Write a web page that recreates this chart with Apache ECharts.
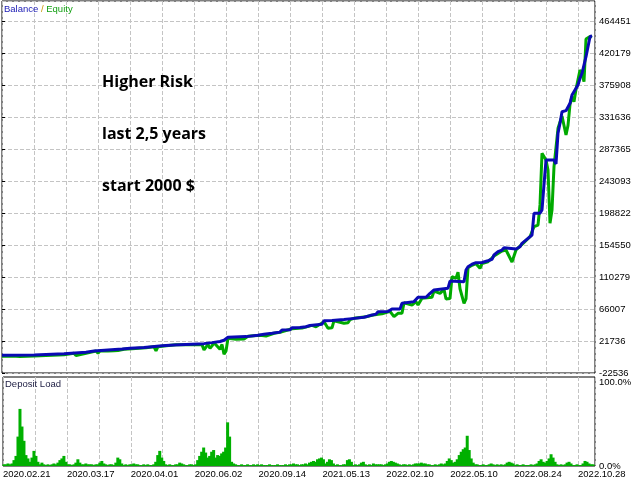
<!DOCTYPE html>
<html><head><meta charset="utf-8">
<script src="https://cdn.jsdelivr.net/npm/echarts@6/dist/echarts.min.js"></script>
<style>html,body{margin:0;padding:0;background:#fff}#c{width:640px;height:480px}</style>
</head><body><div id="c"></div>
<script>
const dateLabels = ['2020.02.21','2020.03.17','2020.04.01','2020.06.02','2020.09.14','2021.05.13','2022.02.10','2022.05.10','2022.08.24','2022.10.28'];
const yTickLabels = ['-22536','21736','66007','110279','154550','198822','243093','287365','331636','375908','420179','464451'];
const loadTickLabels = ['0.0%','100.0%'];
const notes = ['Higher Risk','last 2,5 years','start 2000 $'];

// [trade index, balance]
const balance = [[0,2000],[16,2300],[17,4170],[31,4200],[32,6100],[42,6200],[43,7900],[46,8000],[47,9300],[53,9400],[54,10700],[60,10800],[61,11600],[64,11700],[65,12500],[71,12600],[72,13800],[75,13900],[76,15200],[80,15300],[81,16200],[86,16300],[87,18000],[101,18100],[102,19400],[105,19500],[106,20800],[109,21000],[110,22500],[111,22800],[112,21800],[113,27000],[122,27800],[123,29600],[128,29700],[129,31000],[131,31100],[132,32400],[135,32500],[136,33800],[139,34000],[140,37000],[144,37200],[145,40100],[149,40300],[150,41000],[152,41500],[153,42900],[154,43200],[155,44800],[160,45000],[161,49800],[165,50000],[166,51200],[171,51400],[172,52600],[175,52700],[176,54500],[181,54600],[182,56700],[184,56900],[185,58700],[187,58900],[188,62300],[193,62400],[194,64200],[195,66000],[199,66100],[200,73900],[201,76100],[206,76200],[207,77500],[208,82200],[212,82300],[213,79900],[214,87700],[216,92300],[217,94600],[223,94800],[224,104700],[231,103800],[232,120000],[233,124500],[235,127900],[237,130100],[240,130300],[241,129500],[243,132800],[245,134800],[246,140700],[248,145300],[250,147600],[251,150800],[252,149000],[257,149100],[259,152200],[260,156900],[263,163800],[265,168400],[266,198400],[269,198600],[270,203000],[271,238000],[272,272150],[276,272300],[277,266600],[278,309100],[279,322900],[280,339000],[282,340400],[283,339000],[284,350600],[285,362100],[287,371300],[288,375900],[289,385200],[290,392100],[291,393000],[292,415100],[293,417400],[294,442700],[295,444100]];

// [trade index, equity]
const equity = [[0,700],[7,600],[8,-300],[9,400],[16,900],[17,2700],[31,2800],[32,4700],[36,4700],[37,1500],[38,4000],[42,4800],[43,6500],[47,7900],[48,5000],[49,7900],[53,8000],[54,9300],[56,8300],[58,8500],[59,9300],[61,10200],[65,11100],[72,12400],[76,13800],[77,8300],[78,13900],[81,14800],[87,16600],[100,16700],[101,9300],[102,12000],[103,17000],[104,11600],[105,15000],[106,19400],[109,10200],[110,17000],[111,3300],[112,8000],[113,25600],[117,24100],[118,26300],[121,24500],[122,26400],[123,28200],[129,29600],[132,28700],[133,31000],[136,32400],[139,33800],[140,35600],[145,38700],[150,39600],[155,43400],[157,41500],[158,43400],[161,48400],[163,39300],[165,40000],[166,49800],[171,46200],[173,47000],[174,51200],[176,53100],[182,55300],[185,57300],[188,58700],[190,59500],[191,60900],[194,62800],[196,55400],[197,56000],[198,60000],[200,60100],[201,74700],[205,71500],[206,72000],[207,76100],[208,71500],[209,72000],[210,80800],[215,82200],[216,90900],[219,87700],[220,88000],[221,93200],[222,79800],[224,80500],[225,110700],[227,108500],[228,116800],[229,94000],[230,93000],[231,73900],[232,80000],[233,123100],[235,126500],[237,128700],[239,122300],[240,128900],[243,131400],[246,139300],[250,146200],[252,147600],[255,131000],[256,132000],[257,147700],[260,155500],[264,166000],[265,167000],[266,179900],[267,181000],[268,182200],[269,210000],[270,281400],[271,281000],[272,272000],[273,258300],[274,184600],[275,203000],[276,263000],[277,262000],[278,316000],[280,333000],[282,306700],[283,320000],[284,349000],[285,360000],[286,352800],[287,369900],[289,396700],[290,391000],[291,380500],[292,439500],[294,443000],[295,442700]];

// deposit load % per trade (index 0..295)
const depositLoad = [
2,2,3,2,3,7,12,35,68,47,
30,13,9,5,10,18,12,5,2,4,
2,1,2,1,2,3,2,4,7,9,
12,5,2,2,1,2,4,8,4,2,
2,3,2,2,2,1,2,2,4,6,
3,2,1,2,2,1,4,10,8,3,
1,2,1,2,2,3,2,2,1,1,
2,1,2,1,1,2,5,13,18,10,
6,2,1,2,1,1,2,2,4,3,
2,1,1,2,2,1,2,7,12,17,
22,16,10,12,17,19,10,13,12,15,
17,22,52,35,5,3,2,1,1,2,
1,1,2,1,1,2,1,2,1,2,
1,1,1,2,1,1,1,2,1,1,
1,2,1,2,2,3,2,2,1,2,
2,3,2,4,5,6,5,8,9,10,
8,3,5,8,7,3,1,2,1,1,
2,2,7,8,5,1,2,1,2,4,
5,2,1,2,1,3,2,2,2,2,
1,2,3,5,6,5,4,3,2,1,
2,2,1,2,1,2,3,3,3,4,
3,3,2,2,1,1,2,1,2,3,
2,3,6,9,7,4,5,8,13,17,
20,22,36,19,9,4,2,2,1,1,
2,1,1,2,3,2,1,2,1,2,
1,2,4,5,4,3,1,2,1,1,
2,1,1,1,2,1,2,3,6,8,
5,4,6,9,14,10,5,2,1,2,
1,2,4,5,3,1,1,2,1,1,
3,6,5,3,2,2];

const Y_MIN = -22536, Y_STEP = 44271.5, Y_MAX = Y_MIN + 11.625 * Y_STEP;
const X_MAX = 296.5, X_STEP = 16;
const FONT = 'Liberation Sans';
const grid = {color:'#c4c4c4', type:[4,2], width:1};

const chart = echarts.init(document.getElementById('c'), null, {renderer:'canvas'});
chart.setOption({
  animation:false,
  backgroundColor:'#fff',
  textStyle:{fontFamily:FONT},
  title:[{
    left:4, top:4, padding:0,
    text:'{b|Balance} {s|/} {e|Equity}',
    textStyle:{fontSize:9.5, fontWeight:'normal', rich:{
      b:{color:'#1a1ab4', fontSize:9.5, fontFamily:FONT},
      s:{color:'#c89600', fontSize:9.5, fontFamily:FONT},
      e:{color:'#14a014', fontSize:9.5, fontFamily:FONT}}}
  },{
    left:5, top:379, padding:0, text:'Deposit Load',
    textStyle:{fontSize:9.5, fontWeight:'normal', color:'#1a1a40', fontFamily:FONT}
  }],
  graphic: notes.map((t,i)=>({type:'text', x:102, y:82 + i*52, z:100,
    style:{text:t, fill:'#000', font:'bold 16px "Open Sans"', verticalAlign:'middle'}})),
  grid:[
    {left:2, top:1, width:593, height:372, show:true, borderColor:'#000', borderWidth:1, backgroundColor:'#fff'},
    {left:2, top:377, width:593, height:89, show:true, borderColor:'#000', borderWidth:1, backgroundColor:'#fff'}
  ],
  xAxis:[
    {type:'value', gridIndex:0, min:0, max:X_MAX, interval:X_STEP,
     axisLine:{show:false}, axisTick:{show:false}, axisLabel:{show:false},
     splitLine:{show:true, lineStyle:grid}},
    {type:'value', gridIndex:1, min:0, max:X_MAX, interval:X_STEP,
     axisLine:{show:false}, axisTick:{show:false},
     axisLabel:{show:true, align:'left', margin:3, color:'#000', fontSize:9.5, fontFamily:FONT, hideOverlap:false,
       showMaxLabel:false,
       formatter:(v)=>{ if (Math.abs(v % (2*X_STEP))>1e-6) return ''; const k=Math.round(v/(2*X_STEP)); return dateLabels[k]||''; }},
     splitLine:{show:true, lineStyle:grid}}
  ],
  yAxis:[
    {type:'value', gridIndex:0, position:'right', min:Y_MIN, max:Y_MAX, interval:Y_STEP,
     axisLine:{show:false}, axisTick:{show:true, length:3, lineStyle:{color:'#000'}},
     axisLabel:{show:true, margin:4, color:'#000', fontSize:9.5, fontFamily:FONT, showMaxLabel:false,
       formatter:(v)=>{ const k=Math.round((v-Y_MIN)/Y_STEP); return (Math.abs(v-(Y_MIN+k*Y_STEP))<1 && yTickLabels[k])?yTickLabels[k]:''; }},
     splitLine:{show:true, lineStyle:grid}},
    {type:'value', gridIndex:1, position:'right', min:0, max:106, interval:100,
     axisLine:{show:false}, axisTick:{show:false}, splitLine:{show:false},
     axisLabel:{show:true, margin:4, color:'#000', fontSize:9.5, fontFamily:FONT, showMaxLabel:false,
       formatter:(v)=> v===0?loadTickLabels[0]:(v===100?loadTickLabels[1]:'')}}
  ],
  series:[
    {type:'line', name:'Equity', xAxisIndex:0, yAxisIndex:0, data:equity, symbol:'none',
     lineStyle:{color:'#00aa00', width:3}, z:2},
    {type:'line', name:'Balance', xAxisIndex:0, yAxisIndex:0, data:balance, symbol:'none',
     lineStyle:{color:'#0a0ab4', width:3}, z:3},
    {type:'bar', name:'Deposit Load', xAxisIndex:1, yAxisIndex:1,
     data:depositLoad.map((v,i)=>[i+0.5, v]), barWidth:3, itemStyle:{color:'#00b000'}}
  ]
});
</script></body></html>
